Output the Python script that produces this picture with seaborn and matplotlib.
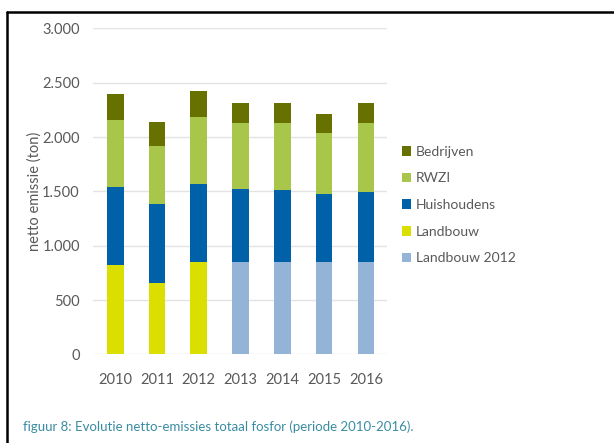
import matplotlib
matplotlib.use("Agg")
import matplotlib.pyplot as plt
from matplotlib.lines import Line2D
from matplotlib.patches import Patch
import numpy as np
import pandas as pd
import seaborn as sns

# Net phosphorus emissions per source (ton), 2010-2016
years = ["2010", "2011", "2012", "2013", "2014", "2015", "2016"]
landbouw = [820, 660, 850, 0, 0, 0, 0]
landbouw_2012 = [0, 0, 0, 850, 850, 850, 850]
huishoudens = [720, 720, 720, 675, 665, 625, 645]
rwzi = [620, 540, 615, 605, 615, 565, 630]
bedrijven = [240, 220, 235, 180, 180, 175, 185]

series = ["Bedrijven", "RWZI", "Huishoudens", "Landbouw", "Landbouw 2012"]
colors = {
    "Bedrijven": "#667100",
    "RWZI": "#a8c64a",
    "Huishoudens": "#0061a9",
    "Landbouw": "#dadf00",
    "Landbouw 2012": "#93b3d7",
}

sns.set_theme(style="white")
plt.rcParams["font.family"] = ["Lato", "DejaVu Sans"]

df = pd.DataFrame({
    "jaar": years,
    "Landbouw 2012": landbouw_2012,
    "Landbouw": landbouw,
    "Huishoudens": huishoudens,
    "RWZI": rwzi,
    "Bedrijven": bedrijven,
})

# cumulative heights, bottom layer first
stack_order = ["Landbouw 2012", "Landbouw", "Huishoudens", "RWZI", "Bedrijven"]
cum = df[stack_order].cumsum(axis=1)

fig = plt.figure(figsize=(6.14, 4.43), dpi=100)
ax = fig.add_axes([0.1515, 0.1998, 0.4785, 0.7363])

# draw the tallest cumulative layer first so lower segments sit on top
for name in reversed(stack_order):
    sns.barplot(x=df["jaar"], y=cum[name], color=colors[name], width=0.4,
                saturation=1, linewidth=0, edgecolor="none", ax=ax, zorder=3)

ax.set_ylim(0, 3000)
ax.set_xlim(-0.53, 6.5)
ax.set_yticks(np.arange(0, 3001, 500))
ax.set_yticklabels(["0", "500", "1.000", "1.500", "2.000", "2.500", "3.000"])
ax.yaxis.grid(True, color="#e3e3e3", linewidth=1.0, zorder=0)
ax.xaxis.grid(False)
for s in ax.spines.values():
    s.set_visible(False)
ax.tick_params(axis="y", length=0, pad=9.5, labelsize=10.5, labelcolor="#595959")
ax.tick_params(axis="x", length=0, pad=13, labelsize=10.5, labelcolor="#595959")
ax.set_xlabel("")
ax.set_ylabel("netto emissie (ton)", fontsize=10.5, color="#595959", labelpad=0)

handles = [Patch(facecolor=colors[n], edgecolor="none") for n in series]
fig.legend(handles, series, loc="upper left", bbox_to_anchor=(0.645, 0.684),
           frameon=False, fontsize=10, labelcolor="#595959",
           handlelength=0.7, handleheight=0.7, handletextpad=0.35,
           labelspacing=1.06, borderaxespad=0)

# frame lines along the top and left edge
fig.add_artist(Line2D([7 / 614, 1.0], [1 - 12 / 443, 1 - 12 / 443],
                      transform=fig.transFigure, color="black", linewidth=1.8))
fig.add_artist(Line2D([7 / 614, 7 / 614], [0.0, 1 - 12 / 443],
                      transform=fig.transFigure, color="black", linewidth=1.8))

fig.text(23 / 614, 1 - 427 / 443,
         "figuur 8: Evolutie netto-emissies totaal fosfor (periode 2010-2016).",
         fontsize=9.5, color="#3a8ca2", ha="left", va="center")

fig.savefig("out.png", dpi=100, facecolor="white")
